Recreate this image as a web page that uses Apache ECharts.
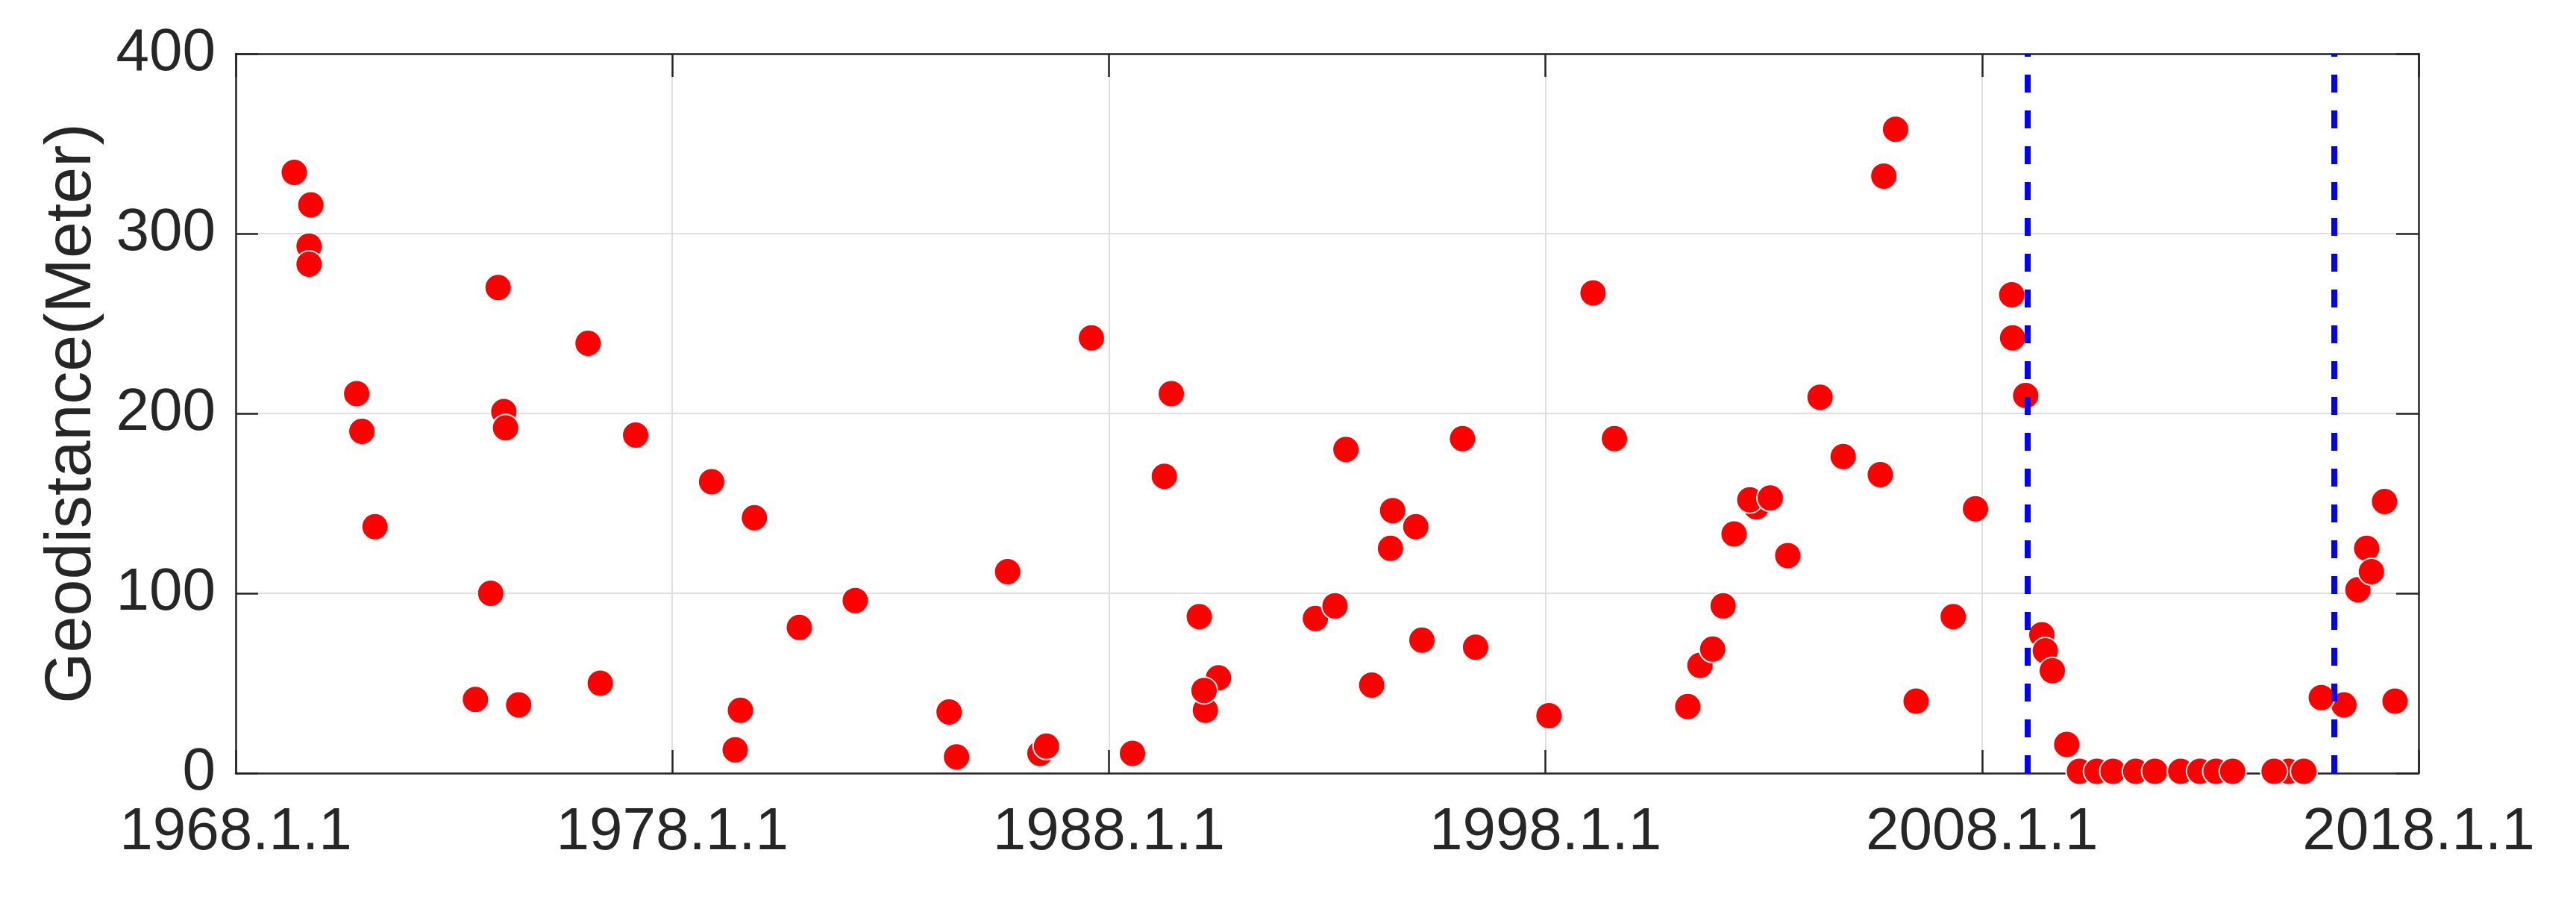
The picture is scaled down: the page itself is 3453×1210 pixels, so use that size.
<!DOCTYPE html>
<html>
<head>
<meta charset="utf-8">
<script src="https://cdn.jsdelivr.net/npm/echarts@6/dist/echarts.min.js"></script>
<style>
  html, body { margin: 0; padding: 0; background: #ffffff; }
  #chart { width: 3453px; height: 1210px; }
</style>
</head>
<body>
<div id="chart"></div>
<script>
// Decimal years of each observation
const years = [
  1969.34, 1969.72, 1969.68, 1969.68, 1970.77, 1970.89, 1971.19,
  1973.84, 1973.49, 1974.01, 1974.14, 1974.18, 1974.48,
  1976.07, 1976.35, 1977.16, 1978.90, 1979.44, 1979.56, 1979.88,
  1980.91, 1982.19, 1984.34, 1984.51, 1985.68, 1986.42, 1986.57,
  1987.60, 1988.54, 1989.27, 1989.43, 1990.07, 1990.51, 1990.21, 1990.18,
  1992.73, 1993.18, 1993.43, 1994.02, 1994.45, 1994.50, 1995.03, 1995.17,
  1996.10, 1996.40, 1998.08, 1999.09, 1999.58,
  2001.26, 2001.54, 2001.83, 2002.07, 2002.32, 2002.83, 2002.68, 2003.15,
  2003.55, 2004.29, 2004.82, 2005.67, 2005.75, 2006.02, 2006.49,
  2007.34, 2007.85, 2008.68, 2008.70, 2009.00, 2009.37, 2009.45, 2009.61, 2009.94,
  2010.23, 2010.63, 2011.00, 2011.52, 2011.96, 2012.55, 2012.99, 2013.36,
  2013.74, 2015.02, 2014.69, 2015.37,
  2016.29, 2015.77, 2016.61, 2016.81, 2016.92, 2017.22, 2017.46
];
// Geodistance in metres, same order as years
const distances = [
  334, 316, 293, 283, 211, 190, 137,
  100, 41, 270, 201, 192, 38,
  239, 50, 188, 162, 13, 35, 142,
  81, 96, 34, 9, 112, 11, 15,
  242, 11, 165, 211, 87, 53, 35, 46,
  86, 93, 180, 49, 125, 146, 137, 74,
  186, 70, 32, 267, 186,
  37, 60, 69, 93, 133, 148, 152, 153,
  121, 209, 176, 166, 332, 358, 40,
  87, 147, 266, 242, 210, 77, 68, 57, 16,
  1, 1, 1, 1, 1, 1, 1, 1,
  1, 1, 1, 1,
  38, 42, 102, 125, 112, 151, 40
];
// Vertical dashed reference lines (decimal years)
const refLines = [2009.05, 2016.07];
// Axis settings
const xTicks = [1968, 1978, 1988, 1998, 2008, 2018];
const yTicks = [0, 100, 200, 300, 400];
const yTitle = 'Geodistance(Meter)';

const points = years.map((y, i) => [y, distances[i]]);
const dark = '#262626';
const font = 'Liberation Sans, Arial, Helvetica, sans-serif';

const chart = echarts.init(document.getElementById('chart'), null, { renderer: 'canvas' });

const xBase = { type: 'value', min: xTicks[0], max: xTicks[xTicks.length - 1], interval: 10 };
const yBase = { type: 'value', min: yTicks[0], max: yTicks[yTicks.length - 1], interval: 100 };

chart.setOption({
  backgroundColor: '#ffffff',
  animation: false,
  grid: { left: 316, top: 72, width: 2926, height: 964, containLabel: false },
  xAxis: [
    Object.assign({}, xBase, {
      position: 'bottom', z: 3,
      axisLine: { show: true, onZero: false, lineStyle: { color: dark, width: 2.5 } },
      axisTick: { show: true, inside: true, length: 31, lineStyle: { color: dark, width: 2.5 } },
      axisLabel: { show: true, margin: 40, fontSize: 80, fontFamily: font, color: dark,
        showMinLabel: true, showMaxLabel: true, formatter: v => v + '.1.1' },
      splitLine: { show: false }
    }),
    Object.assign({}, xBase, {
      position: 'top', z: 3,
      axisLine: { show: true, onZero: false, lineStyle: { color: dark, width: 2.5 } },
      axisTick: { show: true, inside: true, length: 31, lineStyle: { color: dark, width: 2.5 } },
      axisLabel: { show: false },
      splitLine: { show: false }
    }),
    Object.assign({}, xBase, {
      position: 'bottom', z: 1,
      axisLine: { show: false }, axisTick: { show: false }, axisLabel: { show: false },
      splitLine: { show: true, lineStyle: { color: '#dedede', width: 2 } }
    })
  ],
  yAxis: [
    Object.assign({}, yBase, {
      position: 'left', z: 3,
      name: yTitle, nameLocation: 'middle', nameGap: 175,
      nameTextStyle: { fontSize: 88, fontFamily: font, color: dark },
      axisLine: { show: true, onZero: false, lineStyle: { color: dark, width: 2.5 } },
      axisTick: { show: true, inside: true, length: 30, lineStyle: { color: dark, width: 2.5 } },
      axisLabel: { show: true, margin: 27, fontSize: 80, fontFamily: font, color: dark,
        showMinLabel: true, showMaxLabel: true },
      splitLine: { show: false }
    }),
    Object.assign({}, yBase, {
      position: 'right', z: 3,
      axisLine: { show: true, onZero: false, lineStyle: { color: dark, width: 2.5 } },
      axisTick: { show: true, inside: true, length: 30, lineStyle: { color: dark, width: 2.5 } },
      axisLabel: { show: false },
      splitLine: { show: false }
    }),
    Object.assign({}, yBase, {
      position: 'left', z: 1,
      axisLine: { show: false }, axisTick: { show: false }, axisLabel: { show: false },
      splitLine: { show: true, lineStyle: { color: '#dedede', width: 2 } }
    })
  ],
  series: [{
    type: 'scatter',
    xAxisIndex: 0, yAxisIndex: 0,
    z: 5,
    data: points,
    symbol: 'circle',
    symbolSize: 36,
    itemStyle: { color: '#ff0000', borderColor: '#ffffff', borderWidth: 2, opacity: 1 },
    emphasis: { disabled: true },
    markLine: {
      silent: true,
      symbol: ['none', 'none'],
      z: 8,
      label: { show: false },
      lineStyle: { color: '#0000ff', width: 8, type: [24, 24], opacity: 1 },
      data: refLines.map(x => [{ coord: [x, yTicks[0]] }, { coord: [x, yTicks[yTicks.length - 1]] }])
    }
  }]
});
</script>
</body>
</html>
